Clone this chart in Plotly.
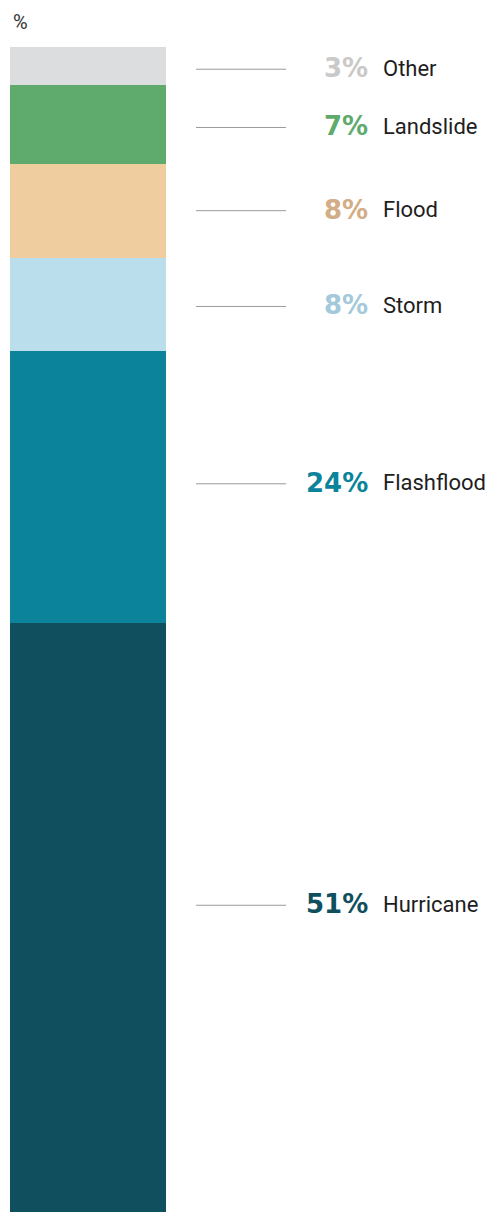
import plotly.graph_objects as go

# bottom to top, as stacked
categories = ["Hurricane", "Flashflood", "Storm", "Flood", "Landslide", "Other"]
shares = [50.6, 23.3, 8.0, 8.1, 6.7, 3.3]
pct_labels = ["51%", "24%", "8%", "8%", "7%", "3%"]

bar_colors = ["#10505e", "#0b849b", "#badeec", "#f0cd9e", "#5fab6e", "#dcdddf"]
text_colors = ["#10505e", "#0b849b", "#a3c9da", "#d2ad85", "#5fab6e", "#c9c9c9"]
label_nudge = [12, 3, -2, 0, -3, -3]  # px, label/leader sits a bit off the segment centre

# page body has an 8px margin, so the figure is drawn from (8, 8)
OFF = 8
W, H = 495 - OFF, 1212 - OFF
bar_px = 156  # bar width in px
x0 = -0.5 - (10 - OFF) / bar_px
x1 = x0 + W / bar_px

fig = go.Figure()
for cat, val, col in zip(categories, shares, bar_colors):
    fig.add_trace(go.Bar(x=[0], y=[val], name=cat, width=1,
                         marker=dict(color=col, line=dict(width=0)),
                         hoverinfo="name+y"))

total = sum(shares)
plot_h = H - (47 - OFF)
cum = 0
for cat, val, lab, tcol, nudge in zip(categories, shares, pct_labels, text_colors, label_nudge):
    mid = cum + val / 2 + nudge * total / plot_h
    cum += val
    fig.add_shape(type="line", xref="paper", yref="y",
                  x0=(196 - OFF) / W, x1=(286 - OFF) / W, y0=mid, y1=mid,
                  line=dict(color="#9a9a9a", width=1))
    fig.add_annotation(xref="paper", yref="y", x=(370 - OFF) / W, y=mid,
                       text="<b>" + lab + "</b>", showarrow=False,
                       xanchor="right", yanchor="middle", yshift=1,
                       font=dict(family="DejaVu Sans", size=26, color=tcol))
    fig.add_annotation(xref="paper", yref="y", x=(381 - OFF) / W, y=mid,
                       text=cat, showarrow=False,
                       xanchor="left", yanchor="middle", yshift=1,
                       font=dict(family="Roboto", size=22, color="#1e1e1e"))

fig.add_annotation(xref="paper", yref="paper", x=(11 - OFF) / W, y=1, yshift=47 - OFF,
                   text="%", showarrow=False, xanchor="left", yanchor="top",
                   font=dict(family="Roboto", size=20, color="#333333"))

fig.update_layout(
    width=W, height=H,
    barmode="stack",
    showlegend=False,
    margin=dict(l=0, r=0, t=47 - OFF, b=0),
    plot_bgcolor="white", paper_bgcolor="white",
    xaxis=dict(range=[x0, x1], visible=False, fixedrange=True),
    yaxis=dict(range=[0, total], visible=False, fixedrange=True),
)

fig.write_html("out.html")
